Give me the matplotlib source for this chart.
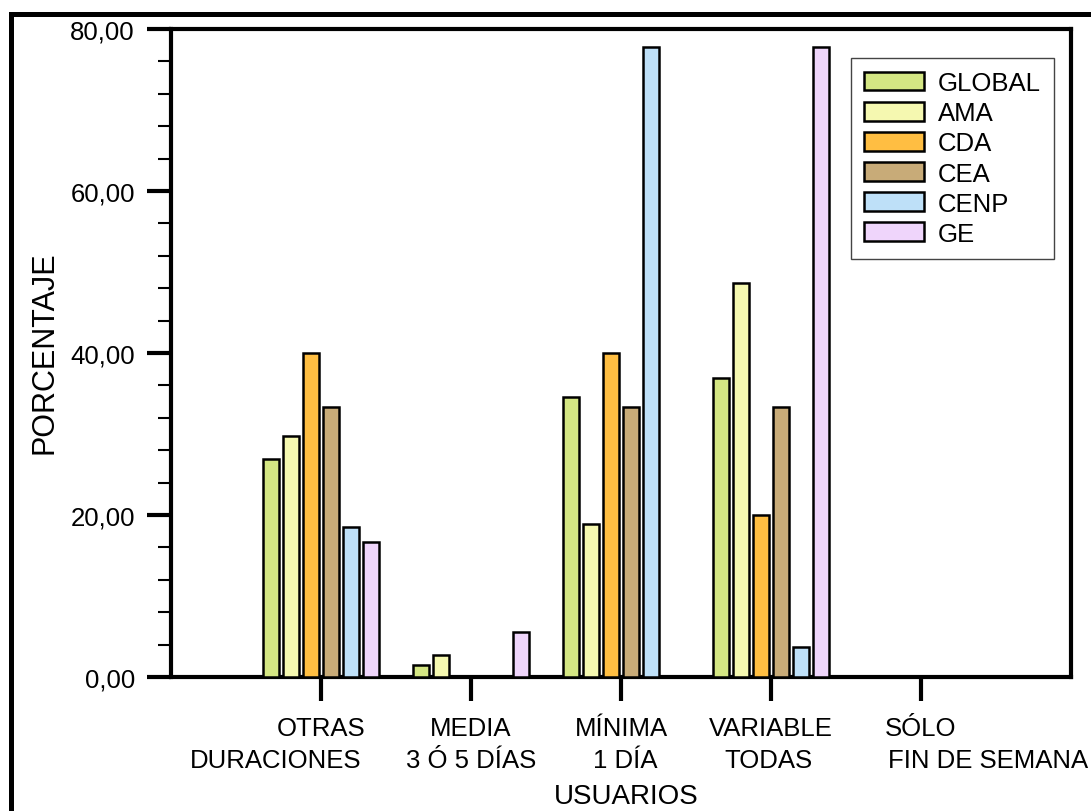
import numpy as np
import matplotlib
matplotlib.use("Agg")
import matplotlib.pyplot as plt
from matplotlib.lines import Line2D
from matplotlib.ticker import MultipleLocator, FuncFormatter

plt.rcParams['font.family'] = ['Liberation Sans', 'DejaVu Sans']

# data
categories_top = ['OTRAS', 'MEDIA', 'MÍNIMA', 'VARIABLE', 'SÓLO']
categories_bottom = ['DURACIONES', '3 Ó 5 DÍAS', '1 DÍA', 'TODAS', 'FIN DE SEMANA']
series = ['GLOBAL', 'AMA', 'CDA', 'CEA', 'CENP', 'GE']
global_vals = [26.92, 1.54, 34.62, 36.92, 0]
ama_vals = [29.73, 2.70, 18.92, 48.65, 0]
cda_vals = [40.00, 0, 40.00, 20.00, 0]
cea_vals = [33.33, 0, 33.33, 33.33, 0]
cenp_vals = [18.52, 0, 77.78, 3.70, 0]
ge_vals = [16.67, 5.56, 0, 77.78, 0]
colors = ['#d4e683', '#f5f8b0', '#ffbe42', '#c8ab78', '#bee0f8', '#efd5fb']

values = [global_vals, ama_vals, cda_vals, cea_vals, cenp_vals, ge_vals]

fig = plt.figure(figsize=(10.91, 8.12), dpi=100)
ax = fig.add_axes([171 / 1091, 1 - 678 / 812, 900 / 1091, 648 / 812])

x = np.arange(1, len(categories_top) + 1)
step = 0.1333
width = 0.113
for j, (name, vals) in enumerate(zip(series, values)):
    ax.bar(x + (j - 2.5) * step, vals, width, color=colors[j], edgecolor='black',
           linewidth=1.8, label=name, zorder=3)

ax.set_xlim(0, 6)
ax.set_ylim(0, 80)

for s in ax.spines.values():
    s.set_linewidth(3)
    s.set_capstyle('projecting')

ax.yaxis.set_major_locator(MultipleLocator(20))
ax.yaxis.set_minor_locator(MultipleLocator(4))
ax.yaxis.set_major_formatter(FuncFormatter(lambda v, p: f'{v:.2f}'.replace('.', ',')))
ax.tick_params(axis='y', which='major', length=17, width=3, pad=9, labelsize=18.5)
ax.tick_params(axis='y', which='minor', length=9.5, width=1.5)

ax.set_xticks(x)
ax.set_xticklabels(categories_top, fontsize=18.5)
ax.tick_params(axis='x', which='major', length=17, width=3, pad=11)

# second line of each category label
shifts = [-33, 0, 3, -2, 48]
for xi, lab, dx in zip(x, categories_bottom, shifts):
    ax.annotate(lab, xy=(xi, 0), xycoords=ax.get_xaxis_transform(),
                xytext=(dx, -65), textcoords='offset points',
                ha='center', va='baseline', fontsize=18.5)

ax.set_xlabel('USUARIOS', fontsize=20)
ax.xaxis.set_label_coords(0.5056, -0.163)
ax.set_ylabel('PORCENTAJE', fontsize=22)
ax.yaxis.set_label_coords(-0.1244, 0.5015)

leg = ax.legend(loc='upper right', bbox_to_anchor=(0.981, 0.955), borderaxespad=0,
                fontsize=18.5, fancybox=False, framealpha=1, handlelength=2.35,
                handleheight=0.75, handletextpad=0.55, labelspacing=0.24,
                borderpad=0.5)
leg.get_frame().set_edgecolor('#444444')
leg.get_frame().set_linewidth(1.0)

# outer frame
fig.add_artist(Line2D([0.0105, 0.0105], [0, 0.981], color='black', lw=3.6,
                      transform=fig.transFigure, solid_capstyle='projecting'))
fig.add_artist(Line2D([0.0105, 1.0], [0.981, 0.981], color='black', lw=3.6,
                      transform=fig.transFigure, solid_capstyle='projecting'))

fig.savefig('out.png', dpi=100)
